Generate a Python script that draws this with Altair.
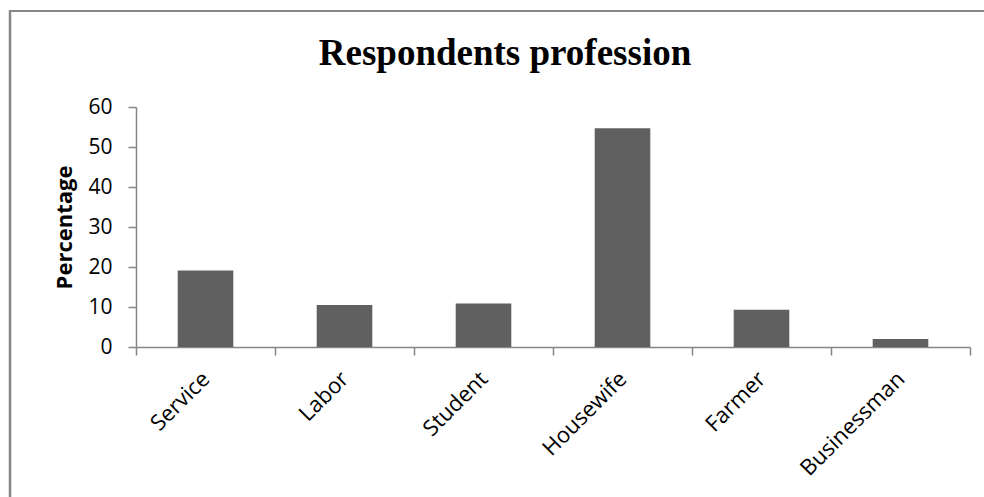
import altair as alt
import pandas as pd

categories = ["Service", "Labor", "Student", "Housewife", "Farmer", "Businessman"]
percentages = [19.1, 10.5, 10.9, 54.7, 9.3, 2.0]
y_ticks = [0, 10, 20, 30, 40, 50, 60]
chart_title = "Respondents profession"

df = pd.DataFrame({"Profession": categories, "Percentage": percentages})

FONT = "Open Sans"
GREY = "#868686"

bars = alt.Chart(df).mark_bar(
    color="#606060", width=alt.RelativeBandSize(0.4)
).encode(
    x=alt.X(
        "Profession:N",
        sort=categories,
        scale=alt.Scale(paddingInner=0, paddingOuter=0),
        axis=alt.Axis(
            title=None,
            labelAngle=-45,
            labelAlign="right",
            labelBaseline="middle",
            labelFont=FONT,
            labelFontSize=22,
            labelColor="black",
            labelPadding=20,
            tickBand="extent",
            tickSize=8,
            tickColor=GREY,
            domainColor=GREY,
            domainWidth=1.5,
            tickWidth=1.5,
        ),
    ),
    y=alt.Y(
        "Percentage:Q",
        scale=alt.Scale(domain=[0, 60], nice=False),
        axis=alt.Axis(
            title="Percentage",
            titleFont=FONT,
            titleFontSize=22,
            titleFontWeight="bold",
            titleColor="black",
            titlePadding=11,
            values=y_ticks,
            grid=False,
            labelFont=FONT,
            labelFontSize=21,
            labelColor="black",
            labelPadding=16,
            tickSize=8,
            tickColor=GREY,
            domainColor=GREY,
            domainWidth=1.5,
            tickWidth=1.5,
        ),
    ),
)

frame = pd.DataFrame({"title": [chart_title]})
top_border = alt.Chart(frame).mark_rule(color=GREY, strokeWidth=2).encode(
    x=alt.value(-127), x2=alt.value(848), y=alt.value(-96)
)
left_border = alt.Chart(frame).mark_rule(color=GREY, strokeWidth=2.5).encode(
    x=alt.value(-126), y=alt.value(-97), y2=alt.value(390)
)
title_text = alt.Chart(frame).mark_text(
    font="Liberation Serif",
    fontSize=37,
    fontWeight="bold",
    color="black",
    align="center",
    baseline="alphabetic",
).encode(
    text="title:N", x=alt.value(369), y=alt.value(-42)
)

chart = alt.layer(bars, top_border, left_border, title_text).properties(
    width=834,
    height=240,
    autosize=alt.AutoSizeParams(type="none"),
    padding={"left": 136, "top": 107, "right": 14, "bottom": 150},
    background="white",
).configure_view(stroke=None)

chart.save("out.html", embed_options={"renderer": "svg", "actions": False})
